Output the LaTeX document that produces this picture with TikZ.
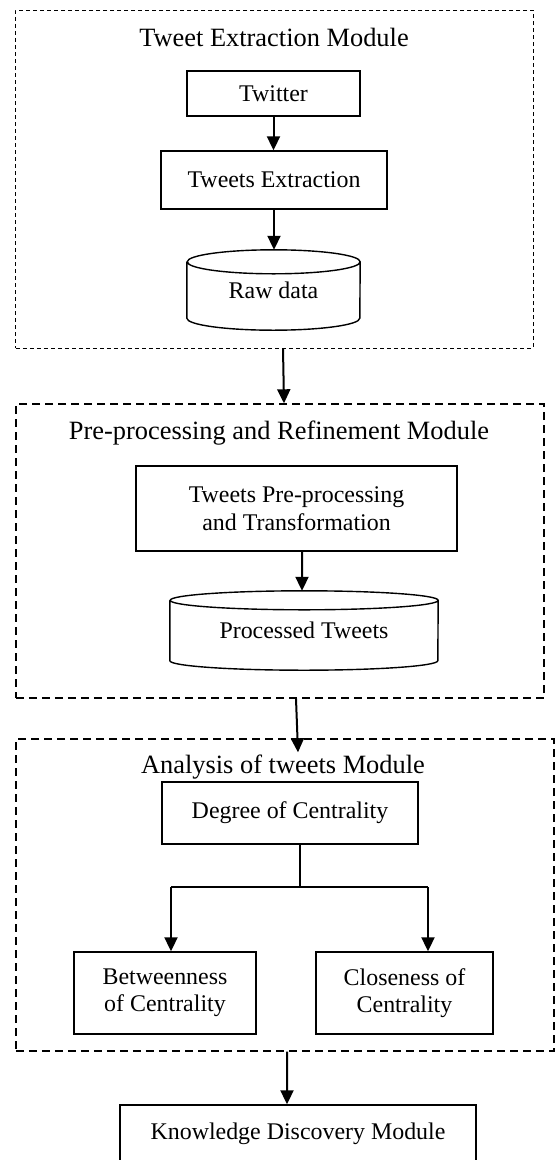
\documentclass[tikz,border=0pt]{standalone}
\usepackage{fontspec}
\setmainfont{Liberation Serif}
\usetikzlibrary{arrows.meta,calc}
\tikzset{
  boxnode/.style={draw, line width=1.4bp, inner sep=0pt, align=center,
    font=\fontsize{24}{27.5}\selectfont},
  cylnode/.style={inner sep=0pt, align=center, font=\fontsize{24}{27.5}\selectfont},
  titlenode/.style={inner sep=0pt, font=\fontsize{26.5}{30}\selectfont},
  modthin/.style={draw, line width=1bp, dash pattern=on 4bp off 3bp},
  modthick/.style={draw, line width=1.4bp, dash pattern=on 8bp off 5bp},
  arr/.style={line width=2bp, -{Triangle[length=14bp,width=13bp]}},
  plainline/.style={line width=2bp},
  cylline/.style={line width=1.4bp}
}
\newcommand{\drawcyl}[3]{%
  \draw[cylline] ([yshift=-#3]#1.north west) -- ([yshift=#3]#1.south west)
    arc[start angle=180,end angle=360,x radius=#2,y radius=#3]
    -- ([yshift=-#3]#1.north east)
    arc[start angle=0,end angle=360,x radius=#2,y radius=#3];}
\begin{document}
\begin{tikzpicture}[x=1bp,y=1bp]
\useasboundingbox (0,0) rectangle (555,-1160);

% Module 1
\node[modthin, minimum width=517bp, minimum height=338bp] (box1) at (274.5,-179) {};
\node[titlenode] (title1) at (274,-37) {Tweet Extraction Module};
\node[boxnode, minimum width=173bp, minimum height=45bp] (twitter) at (273.5,-93.5) {Twitter};
\node[boxnode, minimum width=226bp, minimum height=58bp] (tex) at (274,-180) {Tweets Extraction};
\node[cylnode, minimum width=173bp, minimum height=80bp] (raw) at (273.5,-290) {\raisebox{-3bp}{Raw data}};
\drawcyl{raw}{86.5bp}{12bp}
\draw[arr] (twitter.south) -- (twitter.south |- tex.north);
\draw[arr] (tex.south) -- (tex.south |- raw.north);

% Module 2
\node[modthick, minimum width=528bp, minimum height=294bp] (box2) at (280,-551) {};
\node[titlenode] (title2) at (279,-433) {Pre-processing and Refinement Module};
\node[boxnode, minimum width=321bp, minimum height=85bp] (tpp) at (296.5,-508.5) {Tweets Pre-processing\\and Transformation};
\node[cylnode, minimum width=268bp, minimum height=79bp] (proc) at (304,-630.5) {\raisebox{-2bp}{Processed Tweets}};
\drawcyl{proc}{134bp}{9.5bp}
\draw[arr] ([xshift=5.5bp]tpp.south) -- ([xshift=-2bp]proc.north);

\draw[arr] ([xshift=8.5bp]box1.south) -- ([xshift=4bp]box2.north);

% Module 3
\node[modthick, minimum width=538bp, minimum height=312bp] (box3) at (285,-895) {};
\node[titlenode] (title3) at (283,-767) {Analysis of tweets Module};
\node[boxnode, minimum width=256bp, minimum height=62bp] (deg) at (290,-813) {\raisebox{3bp}{Degree of Centrality}};
\node[boxnode, minimum width=182bp, minimum height=82bp] (betw) at (165,-993) {Betweenness\\of Centrality};
\node[boxnode, minimum width=177bp, minimum height=82bp] (close) at (404.5,-993) {Closeness of\\Centrality};
\coordinate (split) at (300,-887);
\coordinate (lj) at (171,-887);
\coordinate (rj) at (428,-887);
\draw[plainline] (deg.south -| split) -- (split);
\draw[plainline] (lj) -- (rj);
\draw[arr] (lj) -- (lj |- betw.north);
\draw[arr] (rj) -- (rj |- close.north);

\draw[arr] ([xshift=16bp]box2.south) -- ([xshift=13bp,yshift=-14bp]box3.north);

% Knowledge
\node[boxnode, minimum width=356bp, minimum height=57bp] (know) at (298,-1133.5) {Knowledge Discovery Module};
\draw[arr] ([xshift=2bp]box3.south) -- ([xshift=-11bp]know.north);
\end{tikzpicture}
\end{document}
